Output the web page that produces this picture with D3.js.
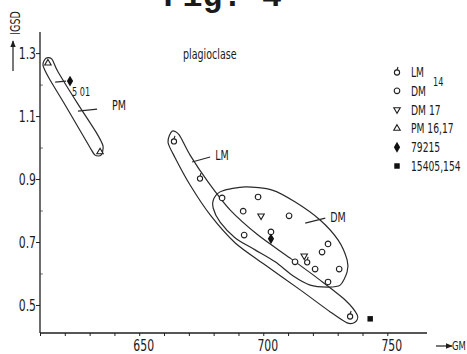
<!DOCTYPE html>
<html>
<head>
<meta charset="utf-8">
<script src="https://cdn.jsdelivr.net/npm/d3@7"></script>
<style>
  body { margin: 0; background: #fff; }
  svg text { font-family: "DejaVu Sans", sans-serif; fill: #1a1a1a; }
</style>
</head>
<body>
<div id="chart"></div>
<script>
// GM / IGSD values
const dmCircles = [[683.4,0.840],[697.9,0.843],[691.9,0.798],[710.4,0.783],[692.3,0.722],[703.1,0.732],
                   [712.8,0.637],[720.9,0.614],[726.1,0.694],[723.7,0.668],[730.6,0.614],[726.1,0.573]];
const dm17 = [[699.1,0.783],[716.5,0.656]];
const lmPoints = [[664.0,1.021],[674.5,0.903],[717.7,0.637],[735.0,0.465]];
const pmPoints = [[613.2,1.268],[634.2,0.986]];
const s79215 = [[622.1,1.211],[703.1,0.710]];
const s15405 = [[743.1,0.456]];

// hand drawn envelopes (outline points, GM / IGSD)
const pmEnvelope = [[612.4,1.284],[614.8,1.281],[617.3,1.240],[625.3,1.138],[632.6,1.049],[635.4,1.005],
                    [634.6,0.976],[632.2,0.976],[629.8,1.005],[620.9,1.125],[613.6,1.221],[611.2,1.262]];
const lmEnvelope = [[663.2,1.052],[666.1,1.040],[670.5,0.976],[677.8,0.890],[686.6,0.802],[697.9,0.722],
                    [710.8,0.649],[722.9,0.579],[733.0,0.516],[737.9,0.468],[737.1,0.446],[733.8,0.443],
                    [727.0,0.478],[714.9,0.548],[700.8,0.627],[688.7,0.697],[678.6,0.786],[670.5,0.881],
                    [664.5,0.967],[661.6,1.017]];
const dmEnvelope = [[680.2,0.840],[683.4,0.862],[692.7,0.875],[703.6,0.865],[712.9,0.827],[722.9,0.770],
                    [730.2,0.706],[733.8,0.643],[733.8,0.605],[731.0,0.563],[725.8,0.557],[718.9,0.563],
                    [712.1,0.592],[704.8,0.637],[696.7,0.675],[688.7,0.713],[682.6,0.763],[679.8,0.808]];

const xTicks = d3.range(610, 751, 10);
const yMajor = [0.5, 0.7, 0.9, 1.1, 1.3];
const yMinor = [0.6, 0.8, 1.0, 1.2];

const legendLabels = ["LM", "DM", "DM 17", "PM 16,17", "79215", "15405,154"];
const legendKinds = ["lm", "dm", "dm17", "pm", "diamond", "square"];

// annotation labels: text, position, leader line start/end
const groupNames = ["PM", "LM", "DM", "5 01"];
const groupAt = [[639.0,1.119],[680.6,0.960],[727.0,0.763],[622.9,1.165]];
const leaderFrom = [[625.3,1.116],[671.3,0.954],[716.9,0.760],[616.1,1.208]];
const leaderTo = [[633.0,1.122],[678.6,0.970],[725.0,0.776],[620.5,1.211]];

const W = 467, H = 354;
const narrow = 0.68; // the lettering in the figure is tall and condensed
const svg = d3.select("#chart").append("svg").attr("width", W).attr("height", H);

const x = d3.scaleLinear().domain([610, 766]).range([40, 427]);
const y = d3.scaleLinear().domain([0.411, 1.367]).range([333, 32]);
const ink = "#1e1e1e";

function label(px, py, str, size, anchor, rot) {
  return svg.append("text")
    .attr("transform", `translate(${px},${py})` + (rot ? ` rotate(${rot})` : "") + ` scale(${narrow},1)`)
    .attr("font-size", size).attr("text-anchor", anchor || "start").text(str);
}

// title, cut off at the top edge like in the scan
svg.append("text").attr("x", 163).attr("y", 6)
  .style("font-family", "'Liberation Mono', monospace").attr("font-weight", "bold")
  .attr("font-size", 33).text("Fig. 4");

// axes
const xAxis = svg.append("g").attr("transform", `translate(0,${y(0.411)})`)
  .call(d3.axisBottom(x).tickValues(xTicks).tickSize(3).tickSizeOuter(0)
    .tickFormat(d => d % 50 === 0 ? d : ""));
xAxis.select(".domain").remove();
xAxis.selectAll("line").attr("stroke", ink);
xAxis.selectAll("text").attr("font-size", 16).attr("font-family", null)
  .attr("y", 18).attr("dy", 0).attr("x", 4 / narrow).attr("transform", `scale(${narrow},1)`);
svg.append("line").attr("x1", x(610)).attr("x2", x(766)).attr("y1", y(0.411)).attr("y2", y(0.411))
  .attr("stroke", ink).attr("stroke-width", 1.3);

const yAxis = svg.append("g").attr("transform", `translate(${x(610)},0)`)
  .call(d3.axisLeft(y).tickValues(yMajor).tickSize(4).tickFormat(d3.format(".1f")));
yAxis.select(".domain").remove();
yAxis.selectAll("line").attr("stroke", ink);
yAxis.selectAll("text").attr("font-size", 16).attr("font-family", null)
  .attr("x", -4 / narrow).attr("transform", `scale(${narrow},1)`);
const yAxisMinor = svg.append("g").attr("transform", `translate(${x(610)},0)`)
  .call(d3.axisRight(y).tickValues(yMinor).tickSize(3).tickFormat(""));
yAxisMinor.select(".domain").remove();
yAxisMinor.selectAll("line").attr("stroke", "#777");
svg.append("line").attr("x1", x(610)).attr("x2", x(610)).attr("y1", y(0.411)).attr("y2", y(1.367))
  .attr("stroke", ink).attr("stroke-width", 1.3);

// axis titles with arrows
svg.append("defs").append("marker").attr("id", "arr").attr("viewBox", "0 0 10 10")
  .attr("refX", 9).attr("refY", 5).attr("markerWidth", 6).attr("markerHeight", 6).attr("orient", "auto")
  .append("path").attr("d", "M0,1L10,5L0,9Z").attr("fill", ink);
svg.append("line").attr("x1", 13).attr("x2", 13).attr("y1", 71).attr("y2", 41)
  .attr("stroke", ink).attr("stroke-width", 1.2).attr("marker-end", "url(#arr)");
label(20, 23, "IGSD", 14, "middle", -90);
svg.append("line").attr("x1", 436).attr("x2", 452).attr("y1", 346).attr("y2", 346)
  .attr("stroke", ink).attr("stroke-width", 1.2).attr("marker-end", "url(#arr)");
label(452, 350, "GM", 12.5);

label(183, 59, "plagioclase", 14);

// envelopes
const outline = d3.line().x(d => x(d[0])).y(d => y(d[1])).curve(d3.curveCardinalClosed.tension(0.2));
[pmEnvelope, lmEnvelope, dmEnvelope].forEach(env => {
  svg.append("path").attr("d", outline(env)).attr("fill", "none").attr("stroke", "#2a2a2a").attr("stroke-width", 1.2);
});

// group labels and leaders
groupNames.forEach((name, i) => {
  svg.append("line").attr("x1", x(leaderFrom[i][0])).attr("y1", y(leaderFrom[i][1]))
    .attr("x2", x(leaderTo[i][0])).attr("y2", y(leaderTo[i][1])).attr("stroke", "#2a2a2a").attr("stroke-width", 1.2);
  label(x(groupAt[i][0]), y(groupAt[i][1]), name, i === 3 ? 12 : 14);
});

// symbols
function drawSymbol(g, kind) {
  const sw = 1.1;
  if (kind === "dm") {
    g.append("circle").attr("r", 2.8).attr("fill", "#fff").attr("stroke", ink).attr("stroke-width", sw);
  } else if (kind === "lm") {
    g.append("circle").attr("cy", 0.5).attr("r", 2.6).attr("fill", "#fff").attr("stroke", ink).attr("stroke-width", sw);
    g.append("line").attr("x1", 0).attr("y1", -2).attr("x2", 1).attr("y2", -5).attr("stroke", ink).attr("stroke-width", sw);
  } else if (kind === "dm17") {
    g.append("path").attr("d", d3.symbol(d3.symbolTriangle, 18)()).attr("transform", "rotate(180)")
      .attr("fill", "#fff").attr("stroke", ink).attr("stroke-width", sw);
  } else if (kind === "pm") {
    g.append("path").attr("d", d3.symbol(d3.symbolTriangle, 18)())
      .attr("fill", "#fff").attr("stroke", ink).attr("stroke-width", sw);
  } else if (kind === "diamond") {
    g.append("path").attr("d", d3.symbol(d3.symbolDiamond, 34)()).attr("fill", "#111");
  } else if (kind === "square") {
    g.append("path").attr("d", d3.symbol(d3.symbolSquare, 30)()).attr("fill", "#111");
  }
}

const sets = [[dmCircles, "dm"], [dm17, "dm17"], [lmPoints, "lm"], [pmPoints, "pm"], [s79215, "diamond"], [s15405, "square"]];
sets.forEach(([pts, kind]) => {
  pts.forEach(p => {
    const g = svg.append("g").attr("transform", `translate(${x(p[0])},${y(p[1])})`);
    drawSymbol(g, kind);
  });
});

// legend
legendLabels.forEach((lab, i) => {
  const ly = 72 + i * 18.8;
  const g = svg.append("g").attr("transform", `translate(397,${ly})`);
  drawSymbol(g, legendKinds[i]);
  label(411, ly + 5, lab, 13.5);
});
label(433, 86, "14", 12);
</script>
</body>
</html>
